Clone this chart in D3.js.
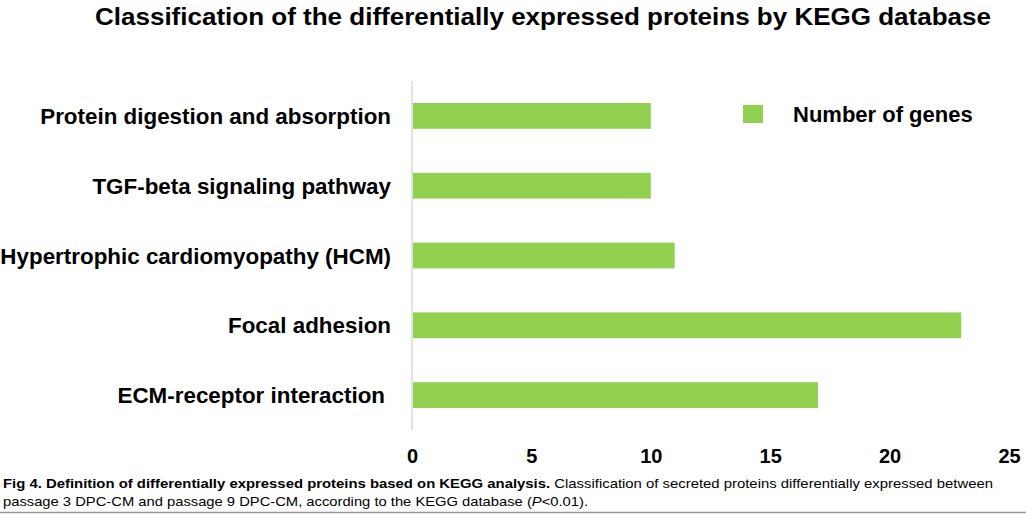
<!DOCTYPE html>
<html><head><meta charset="utf-8">
<script src="https://cdn.jsdelivr.net/npm/d3@7/dist/d3.min.js"></script>
<style>
body{margin:0;background:#fff;}
svg{display:block;}
</style></head>
<body><svg id="c" width="1026" height="514"></svg>
<script>
const titleText = "Classification of the differentially expressed proteins by KEGG database";
const categories = ["Protein digestion and absorption","TGF-beta signaling pathway","Hypertrophic cardiomyopathy (HCM)","Focal adhesion","ECM-receptor interaction"];
const geneCounts = [10,10,11,23,17];
const xTicks = [0,5,10,15,20,25];
const seriesName = "Number of genes";
const captionBold = "Fig 4. Definition of differentially expressed proteins based on KEGG analysis.";
const captionRest1 = " Classification of secreted proteins differentially expressed between";
const captionLine2a = "passage 3 DPC-CM and passage 9 DPC-CM, according to the KEGG database (";
const captionItalic = "P";
const captionLine2b = "<0.01).";

const svg = d3.select("#c");
const green = "#92d050";
const sans = "'Liberation Sans',Arial,sans-serif";

const x = d3.scaleLinear().domain([0,25]).range([412,1009]);
const y = d3.scaleBand().domain(categories).range([81,430]).paddingInner(0.63).paddingOuter(0.315);

svg.append("text").attr("x",543).attr("y",25).attr("text-anchor","middle")
  .attr("font-family",sans).attr("font-weight","bold").attr("font-size",24.5)
  .attr("textLength",896).attr("lengthAdjust","spacingAndGlyphs")
  .attr("fill","#000").text(titleText);

svg.append("line").attr("x1",x(0)).attr("x2",x(0)).attr("y1",81).attr("y2",430)
  .attr("stroke","#d9d9d9").attr("stroke-width",1.5);

svg.selectAll("rect.bar").data(geneCounts).enter().append("rect").attr("class","bar")
  .attr("x",x(0)+1).attr("y",(d,i)=>y(categories[i]))
  .attr("width",d=>x(d)-x(0)-1).attr("height",y.bandwidth()).attr("fill",green);

svg.selectAll("text.cat").data(categories).enter().append("text").attr("class","cat")
  .attr("x",(d,i)=> i===4 ? 385 : 391).attr("y",d=>y(d)+y.bandwidth()/2).attr("dy","0.36em")
  .attr("text-anchor","end").attr("font-family",sans).attr("font-weight","bold").attr("font-size",22.4)
  .attr("fill","#000").text(d=>d);

const xAxis = d3.axisBottom(x).tickValues(xTicks).tickSize(0).tickPadding(0);
const gx = svg.append("g").attr("transform","translate(0,463)").call(xAxis);
gx.select(".domain").remove();
gx.selectAll("text").attr("font-family",sans).attr("font-weight","bold").attr("font-size",20).attr("fill","#000").attr("dy","0");

// legend
svg.append("rect").attr("x",743).attr("y",105).attr("width",20).attr("height",18).attr("fill",green);
svg.append("text").attr("x",793).attr("y",122).attr("font-family",sans).attr("font-weight","bold").attr("font-size",22).attr("fill","#000").text(seriesName);

// caption
const cap1 = svg.append("text").attr("x",3).attr("y",488).attr("font-family",sans).attr("font-size",13.5).attr("fill","#000")
  .attr("textLength",990).attr("lengthAdjust","spacingAndGlyphs");
cap1.append("tspan").attr("font-weight","bold").text(captionBold);
cap1.append("tspan").text(captionRest1);
const cap2 = svg.append("text").attr("x",3).attr("y",506).attr("font-family",sans).attr("font-size",13.5).attr("fill","#000")
  .attr("textLength",585).attr("lengthAdjust","spacingAndGlyphs");
cap2.append("tspan").text(captionLine2a);
cap2.append("tspan").attr("font-style","italic").text(captionItalic);
cap2.append("tspan").text(captionLine2b);
svg.append("line").attr("x1",0).attr("x2",1026).attr("y1",512.5).attr("y2",512.5).attr("stroke","#999").attr("stroke-width",1.5);
</script></body></html>
